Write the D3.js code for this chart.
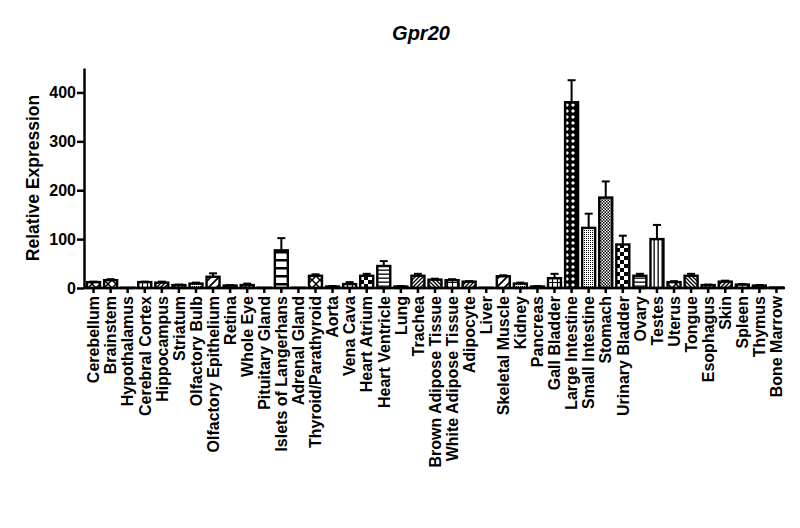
<!DOCTYPE html>
<html>
<head>
<meta charset="utf-8">
<script src="https://cdn.jsdelivr.net/npm/d3@7"></script>
<style>
  body { margin: 0; background: #fff; }
  svg text { font-family: "Liberation Sans", Arial, sans-serif; font-weight: bold; }
</style>
</head>
<body>
<div id="chart"></div>
<script>
// tissues along the x axis
const tissues = ["Cerebellum", "Brainstem", "Hypothalamus", "Cerebral Cortex", "Hippocampus",
  "Striatum", "Olfactory Bulb", "Olfactory Epithelium", "Retina", "Whole Eye",
  "Pituitary Gland", "Islets of Langerhans", "Adrenal Gland", "Thyroid/Parathyroid", "Aorta",
  "Vena Cava", "Heart Atrium", "Heart Ventricle", "Lung", "Trachea",
  "Brown Adipose Tissue", "White Adipose Tissue", "Adipocyte", "Liver", "Skeletal Muscle",
  "Kidney", "Pancreas", "Gall Bladder", "Large Intestine", "Small Intestine",
  "Stomach", "Urinary Bladder", "Ovary", "Testes", "Uterus",
  "Tongue", "Esophagus", "Skin", "Spleen", "Thymus", "Bone Marrow"];

// mean relative expression
const meanExpr = [12, 16, 0.5, 12, 11,
  6, 9, 23, 5, 6,
  0.5, 77, 0.5, 25, 3,
  8, 25, 45, 3, 25,
  17, 16, 13, 0.5, 24,
  9, 3, 20, 380, 123,
  185, 89, 25, 100, 12,
  25, 6, 13, 7, 5, 1];

// upper error (SEM)
const semExpr = [1, 2, 0, 1, 2,
  1, 2, 7, 1, 3,
  0, 25, 0, 3, 1,
  4, 4, 10, 1, 4,
  2, 2, 1, 0, 2,
  2, 1, 9, 45, 29,
  33, 18, 4, 29, 2,
  4, 1, 2, 1, 1, 0];

const yTicks = [0, 100, 200, 300, 400];

// styling: fill pattern used for each bar
const fillByTissue = ["cross", "cross", "none", "grid", "diag",
  "backdiag", "dots", "diagwide", "none", "diag",
  "none", "horizwide", "none", "cross", "diag",
  "grid", "checkbig", "horiz", "none", "diag",
  "backdiag", "grid", "diag", "none", "diagwide",
  "dots", "none", "grid", "diamond", "dots",
  "checkfine", "checkbig", "horiz", "vert", "cross",
  "backdiag", "diag", "diag", "grid", "none", "none"];

const width = 800, height = 528;
const margin = {top: 68, right: 15, bottom: 240, left: 84};
const baseY = 288;

const svg = d3.select("#chart").append("svg")
  .attr("width", width)
  .attr("height", height);

// pattern definitions
const defs = svg.append("defs");
function pat(id, w, h, draw) {
  let p = defs.append("pattern").attr("id", id)
    .attr("patternUnits", "userSpaceOnUse")
    .attr("width", w).attr("height", h);
  p.append("rect").attr("width", w).attr("height", h).attr("fill", "#fff");
  draw(p);
}
pat("diag", 4, 4, p => p.append("path").attr("d", "M-1,1 l2,-2 M0,4 l4,-4 M3,5 l2,-2").attr("stroke", "#000").attr("stroke-width", 1.3));
pat("backdiag", 4, 4, p => p.append("path").attr("d", "M-1,3 l2,2 M0,0 l4,4 M3,-1 l2,2").attr("stroke", "#000").attr("stroke-width", 1.3));
pat("diagwide", 8, 8, p => p.append("path").attr("d", "M-2,2 l4,-4 M0,8 l8,-8 M6,10 l4,-4").attr("stroke", "#000").attr("stroke-width", 1.8));
pat("horizwide", 10, 8, p => p.append("rect").attr("y", 3).attr("width", 10).attr("height", 2.5).attr("fill", "#000"));
pat("horiz", 10, 4, p => p.append("rect").attr("y", 1.5).attr("width", 10).attr("height", 1.3).attr("fill", "#000"));
pat("vert", 4, 10, p => p.append("rect").attr("x", 1.5).attr("width", 1.3).attr("height", 10).attr("fill", "#000"));
pat("grid", 5, 5, p => p.append("path").attr("d", "M0,2.5 h5 M2.5,0 v5").attr("stroke", "#000").attr("stroke-width", 1.2));
pat("cross", 8, 8, p => p.append("path").attr("d", "M0,0 L8,8 M8,0 L0,8").attr("stroke", "#000").attr("stroke-width", 1.5));
pat("diamond", 6, 6, p => {
  p.select("rect").attr("fill", "#000");
  p.append("path").attr("d", "M3,1 L5,3 L3,5 L1,3 Z").attr("fill", "#fff");
});
pat("dots", 2, 2, p => p.append("rect").attr("width", 1).attr("height", 1).attr("fill", "#000"));
pat("checkfine", 3, 3, p => p.append("path").attr("d", "M0,0 h1.5 v1.5 h-1.5 Z M1.5,1.5 h1.5 v1.5 h-1.5 Z").attr("fill", "#000"));
pat("checkbig", 8, 8, p => p.append("path").attr("d", "M0,0 h4 v4 h-4 Z M4,4 h4 v4 h-4 Z").attr("fill", "#000"));

const x = d3.scaleBand()
  .domain(tissues)
  .range([margin.left + 1, width - margin.right])
  .paddingInner(0.24)
  .paddingOuter(0.12);

const y = d3.scaleLinear()
  .domain([0, 450])
  .range([baseY, margin.top]);

// bars
let bars = svg.append("g").attr("id", "bars");
bars.selectAll("rect").data(tissues).enter()
  .append("rect")
  .attr("x", d => x(d))
  .attr("y", (d, i) => y(meanExpr[i]))
  .attr("width", x.bandwidth())
  .attr("height", (d, i) => baseY - y(meanExpr[i]))
  .attr("fill", (d, i) => fillByTissue[i] == "none" ? "#fff" : "url(#" + fillByTissue[i] + ")")
  .attr("stroke", "#000")
  .attr("stroke-width", 2.4);

// error bars (upper only)
let err = svg.append("g").attr("id", "errors")
  .attr("stroke", "#000").attr("stroke-width", 2);
tissues.forEach(function(t, i) {
  if (semExpr[i] <= 0) return;
  let cx = x(t) + x.bandwidth() / 2;
  err.append("line")
    .attr("x1", cx).attr("x2", cx)
    .attr("y1", y(meanExpr[i])).attr("y2", y(meanExpr[i] + semExpr[i]));
  err.append("line")
    .attr("x1", cx - 4).attr("x2", cx + 4)
    .attr("y1", y(meanExpr[i] + semExpr[i])).attr("y2", y(meanExpr[i] + semExpr[i]));
});

// y axis
let yAxis = svg.append("g")
  .attr("transform", "translate(" + margin.left + ",0)")
  .call(d3.axisLeft(y).tickValues(yTicks).tickSize(7).tickPadding(1).tickSizeOuter(0));
yAxis.selectAll("path, line").attr("stroke", "#000").attr("stroke-width", 2.5);
yAxis.selectAll("text").attr("font-size", 16).attr("fill", "#000");

// x axis
let xAxis = svg.append("g")
  .attr("transform", "translate(0," + baseY + ")")
  .call(d3.axisBottom(x).tickSize(5).tickSizeOuter(0));
xAxis.select(".domain").attr("d", "M" + margin.left + ",0H" + (width - margin.right));
xAxis.selectAll("path, line").attr("stroke", "#000").attr("stroke-width", 2.5);
xAxis.selectAll("text")
  .attr("font-size", 16)
  .attr("fill", "#000")
  .attr("transform", "rotate(-90)")
  .attr("text-anchor", "end")
  .attr("x", -8)
  .attr("y", 0)
  .attr("dy", "0.36em");

// title and axis label
svg.append("text")
  .attr("x", 421).attr("y", 40)
  .attr("text-anchor", "middle")
  .attr("font-size", 20)
  .attr("font-style", "italic")
  .text("Gpr20");

svg.append("text")
  .attr("transform", "translate(39,178) rotate(-90)")
  .attr("text-anchor", "middle")
  .attr("font-size", 17.5)
  .text("Relative Expression");
</script>
</body>
</html>
